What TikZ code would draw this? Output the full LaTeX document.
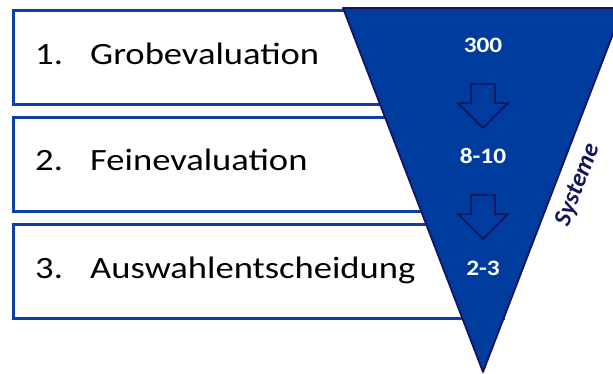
\documentclass[tikz,border=0pt]{standalone}
\usepackage{fontspec}
\setmainfont{Carlito}
\usetikzlibrary{shapes.arrows}
\definecolor{rahmenblau}{HTML}{0B40A8}
\definecolor{trichterblau}{HTML}{003C9E}
\definecolor{navy}{HTML}{15155C}
\tikzset{
  % Stufen links
  stufe/.style={draw=rahmenblau,fill=white,line width=3.2pt,anchor=north west,
                minimum width=490pt,minimum height=94pt,inner sep=0pt},
  stlbl/.style={anchor=base west,font=\fontsize{31}{31}\selectfont,text=black,
                inner sep=0pt,xscale=1.18},
  % Trichter
  trichter/.style={fill=trichterblau,draw=navy,line width=1.8pt,line join=round},
  anz/.style={font=\fontsize{22}{22}\selectfont\bfseries,text=white,inner sep=0pt,xscale=1.15},
  pfeil/.style={single arrow,rotate=-90,fill=trichterblau,draw=navy,
                line width=1.6pt,minimum height=44pt,minimum width=48pt,
                single arrow head extend=13pt,inner xsep=0pt,inner ysep=11pt},
}
\begin{document}
\begin{tikzpicture}[x=1pt,y=-1pt]
  \useasboundingbox (0,0) rectangle (613,374);
  % drei Stufen
  \node[stufe] (s1) at (12,9) {};
  \node[stufe] (s2) at (12,116) {};
  \node[stufe] (s3) at (12,223) {};
  \node[stlbl] (l1) at (35,65) {\makebox[46.6pt][l]{1.}Grobevaluation};
  \node[stlbl] (l2) at (35,171) {\makebox[46.6pt][l]{2.}Feinevaluation};
  \node[stlbl] (l3) at (35,278) {\makebox[46.6pt][l]{3.}Auswahlentscheidung};
  % Trichter
  \coordinate (ol) at (343,8);
  \coordinate (or) at (623,8);
  \coordinate (sp) at (483,372);
  \draw[trichter] (ol) -- (or) -- (sp) -- cycle;
  \node[anz] (n1) at (483,45) {300};
  \node[anz] (n2) at (483,156) {8-10};
  \node[anz] (n3) at (483,268) {2-3};
  \node[pfeil] (p1) at (483,100) {};
  \node[pfeil] (p2) at (483,211) {};
  \node[rotate=69,font=\fontsize{25}{25}\selectfont\bfseries\itshape,text=navy]
    (sys) at (578,185) {Systeme};
\end{tikzpicture}
\end{document}
